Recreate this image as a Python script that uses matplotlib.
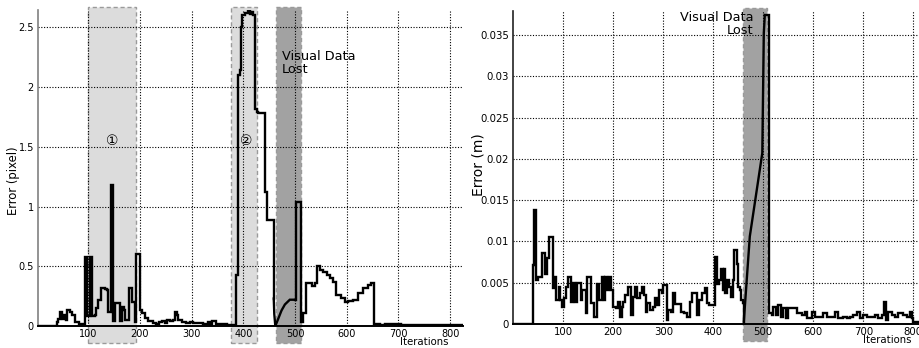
import matplotlib
matplotlib.use("Agg")
import matplotlib.pyplot as plt
from matplotlib.patches import Rectangle

plt.rcParams['font.family'] = ['DejaVu Sans', 'Noto Sans CJK SC']

# ---------------- image-space error (pixel) ----------------
pix_before_iter = [3, 39, 42, 46, 50, 54, 57, 59, 65, 68, 72, 74, 83, 88, 94, 98, 103, 108,
                   113, 116, 119, 124, 132, 137, 139, 144, 148, 152, 160, 161, 165, 169, 171,
                   176, 179, 184, 188, 190, 192, 199, 200, 205, 210, 216, 225, 232, 237, 242,
                   248, 253, 258, 264, 268, 271, 274, 281, 290, 297, 303, 316, 322, 332, 335,
                   339, 345, 348, 358, 368, 385, 389, 393, 395, 398, 404, 410, 413, 415, 419,
                   422, 426, 429, 442, 446, 459]
pix_before_err = [0, 0.03, 0.06, 0.12, 0.06, 0.09, 0.05, 0.13, 0.12, 0.09, 0.09, 0.036, 0.02,
                  0.017, 0.574, 0.08, 0.58, 0.08, 0.09, 0.15, 0.22, 0.32, 0.31, 0.30, 0.12, 1.18,
                  0.045, 0.195, 0.19, 0.045, 0.16, 0.134, 0.05, 0.05, 0.32, 0.2, 0.2, 0.03, 0.60,
                  0.60, 0.13, 0.106, 0.064, 0.045, 0.022, 0.017, 0.036, 0.045, 0.028, 0.05, 0.04,
                  0.05, 0.12, 0.09, 0.05, 0.036, 0.028, 0.036, 0.022, 0.022, 0.017, 0.036, 0.008,
                  0.042, 0.042, 0.017, 0.017, 0.005, 0.426, 2.10, 2.14, 2.50, 2.60, 2.62, 2.64,
                  2.61, 2.63, 2.60, 1.82, 1.79, 1.78, 1.12, 0.886, 0.23]
pix_lost_iter = [459, 460, 462, 467.6, 474, 480.5, 490, 501]
pix_lost_err = [0.23, 0.1, 0.0, 0.06, 0.13, 0.18, 0.22, 0.22]
pix_after_iter = [501, 502, 511, 516, 521, 532, 538, 543, 548, 555, 561, 567, 574, 580, 590,
                  597, 603, 613, 622, 632, 642, 648, 653, 665, 675, 685, 695, 705, 720, 735,
                  750, 770, 790, 810, 825]
pix_after_err = [0.22, 1.04, 0.036, 0.106, 0.356, 0.334, 0.356, 0.50, 0.468, 0.454, 0.43, 0.398,
                 0.37, 0.259, 0.231, 0.203, 0.21, 0.217, 0.273, 0.315, 0.34, 0.362, 0.017, 0.012,
                 0.02, 0.015, 0.017, 0.01, 0.012, 0.008, 0.01, 0.006, 0.008, 0.005, 0.005]

pix_regions = [(100, 192), (376, 426)]
pix_region_labels = ['①', '②']
pix_lost_region = (463, 511)

# ---------------- position error (m) ----------------
m_before_iter = [0, 39, 42, 45, 50, 57, 63, 67, 71, 79, 81, 85, 91, 93, 97, 101, 105, 110, 115,
                 119, 123, 127, 135, 137, 145, 148, 155, 161, 167, 172, 177, 181, 184, 188, 192,
                 195, 199, 205, 210, 213, 217, 220, 223, 230, 235, 240, 243, 248, 253, 257, 261,
                 265, 268, 273, 279, 283, 287, 292, 297, 300, 307, 310, 315, 319, 323, 328, 335,
                 341, 347, 353, 358, 363, 368, 372, 377, 383, 387, 392, 400, 404, 408, 412, 416,
                 419, 421, 424, 427, 432, 435, 439, 441, 447, 450, 453, 455, 459, 461]
m_before_err = [0, 0.0072, 0.0138, 0.0053, 0.0057, 0.0086, 0.0061, 0.0080, 0.0105, 0.0043,
                0.0057, 0.0029, 0.0045, 0.0029, 0.0021, 0.0031, 0.0045, 0.0057, 0.0027, 0.0050,
                0.0027, 0.0050, 0.0029, 0.0041, 0.0013, 0.0057, 0.0025, 0.0009, 0.0049, 0.0029,
                0.0057, 0.0029, 0.0057, 0.0041, 0.0057, 0.0041, 0.0021, 0.0019, 0.0027, 0.0009,
                0.0021, 0.0027, 0.0035, 0.0045, 0.0011, 0.0033, 0.0045, 0.0031, 0.0037, 0.0045,
                0.0035, 0.0015, 0.0025, 0.0017, 0.0021, 0.0031, 0.0023, 0.0041, 0.0037, 0.0047,
                0.0005, 0.0017, 0.0015, 0.0037, 0.0024, 0.0024, 0.0014, 0.0013, 0.0009, 0.0027,
                0.0037, 0.0037, 0.0011, 0.0029, 0.0037, 0.0043, 0.0025, 0.0023, 0.0023, 0.0081,
                0.0049, 0.0053, 0.0067, 0.0041, 0.0067, 0.0037, 0.0053, 0.0045, 0.0033, 0.0053,
                0.0090, 0.0073, 0.0045, 0.0041, 0.0029, 0.0025, 0.0003]
m_lost_iter = [461, 473, 498, 501, 503]
m_lost_err = [0.0003, 0.0106, 0.0207, 0.0352, 0.0374]
m_after_iter = [503, 512, 517, 520, 525, 530, 535, 540, 545, 550, 560, 567, 577, 583, 587, 593,
                597, 603, 613, 620, 627, 637, 643, 650, 660, 667, 673, 680, 687, 693, 700, 707,
                715, 723, 730, 737, 741, 745, 750, 757, 763, 770, 779, 787, 793, 797, 800, 812]
m_after_err = [0.0374, 0.0013, 0.0011, 0.0021, 0.0011, 0.0023, 0.0009, 0.0019, 0.0007, 0.0019,
               0.0019, 0.0013, 0.0011, 0.0015, 0.0007, 0.0007, 0.0015, 0.0009, 0.0009, 0.0013,
               0.0009, 0.0009, 0.0015, 0.0007, 0.0009, 0.0007, 0.0009, 0.0011, 0.0015, 0.0007,
               0.0011, 0.0009, 0.0009, 0.0011, 0.0007, 0.0011, 0.0027, 0.0005, 0.0015, 0.0011,
               0.0009, 0.0013, 0.0011, 0.0009, 0.0015, 0.0007, 0.0003, 0.0003]
m_lost_region = (460, 508)

x_ticks = [100, 200, 300, 400, 500, 600, 700, 800]
pix_yticks = [0, 0.5, 1, 1.5, 2, 2.5]
pix_yticklabels = ['0', '0.5', '1', '1.5', '2', '2.5']
m_yticks = [0, 0.005, 0.01, 0.015, 0.02, 0.025, 0.03, 0.035]
m_yticklabels = ['0', '0.005', '0.01', '0.015', '0.02', '0.025', '0.03', '0.035']

W, H = 919, 348
fig = plt.figure(figsize=(W / 100, H / 100), dpi=100)

ax1 = fig.add_axes([38 / W, (H - 326) / H, 425 / W, 316 / H])
ax2 = fig.add_axes([513.3 / W, (H - 324) / H, 411.5 / W, 313 / H])

LINE = dict(color='black', lw=1.7, solid_joinstyle='miter', zorder=3)


def style(ax, yticks, ylabels, lsize, left_color):
    ax.set_xticks(x_ticks)
    ax.set_yticks(yticks)
    ax.set_yticklabels(ylabels)
    ax.tick_params(length=0, labelsize=lsize, pad=3)
    ax.tick_params(axis='x', pad=2)
    for s in ('top', 'right'):
        ax.spines[s].set_visible(False)
    ax.spines['bottom'].set_linewidth(1.4)
    ax.spines['left'].set_linewidth(1.2)
    ax.spines['left'].set_color(left_color)
    ax.set_axisbelow(True)
    ax.grid(True, color='black', linestyle=(0, (1, 1.5)), lw=0.8)


def shade(ax, x0, x1, face, y0=-0.055, y1=1.008):
    tr = ax.get_xaxis_transform()
    r = Rectangle((x0, y0), x1 - x0, y1 - y0, transform=tr, facecolor=face,
                  edgecolor='#9a9a9a', lw=1.0, linestyle=(0, (3, 2)), clip_on=False, zorder=0.2)
    ax.add_patch(r)


# left panel
style(ax1, pix_yticks, pix_yticklabels, 7, '#808080')
ax1.set_xlim(3, 825)
ax1.set_ylim(0, 2.645)
for (a, b), lab in zip(pix_regions, pix_region_labels):
    shade(ax1, a, b, '#dcdcdc')
    ax1.text((a + b) / 2 if lab == '①' else 405, 1.55, lab, ha='center', va='center',
             fontsize=10, zorder=4)
shade(ax1, pix_lost_region[0], pix_lost_region[1], '#a2a2a2')
ax1.plot(pix_before_iter, pix_before_err, drawstyle='steps-post', **LINE)
ax1.plot(pix_lost_iter, pix_lost_err, **LINE)
ax1.plot(pix_after_iter, pix_after_err, drawstyle='steps-post', **LINE)
ax1.text(474, 2.2, 'Visual Data\nLost', fontsize=9.3, ha='left', va='center',
         linespacing=1.0, zorder=4)

# right panel
style(ax2, m_yticks, m_yticklabels, 7.3, '#222222')
ax2.set_xlim(0, 823)
ax2.set_ylim(0, 0.0379)
shade(ax2, m_lost_region[0], m_lost_region[1], '#a2a2a2', y0=-0.053, y1=1.01)
ax2.plot(m_before_iter, m_before_err, drawstyle='steps-post', **LINE)
ax2.plot(m_lost_iter, m_lost_err, **LINE)
ax2.plot(m_after_iter, m_after_err, drawstyle='steps-post', **LINE)
ax2.text(481, 0.0363, 'Visual Data\nLost', fontsize=9.3, ha='right', va='center',
         multialignment='right', linespacing=1.0, zorder=4)

# axis titles
fig.text(14 / W, 1 - 181 / H, 'Error (pixel)', rotation=90, fontsize=8.4,
         ha='center', va='center')
fig.text(478 / W, 1 - 165 / H, 'Error (m)', rotation=90, fontsize=10,
         ha='center', va='center')
fig.text(424 / W, 1 - 342 / H, 'Iterations', fontsize=7.3, ha='center', va='center')
fig.text(887 / W, 1 - 340 / H, 'Iterations', fontsize=7.3, ha='center', va='center')

fig.savefig('out.png', dpi=100)
